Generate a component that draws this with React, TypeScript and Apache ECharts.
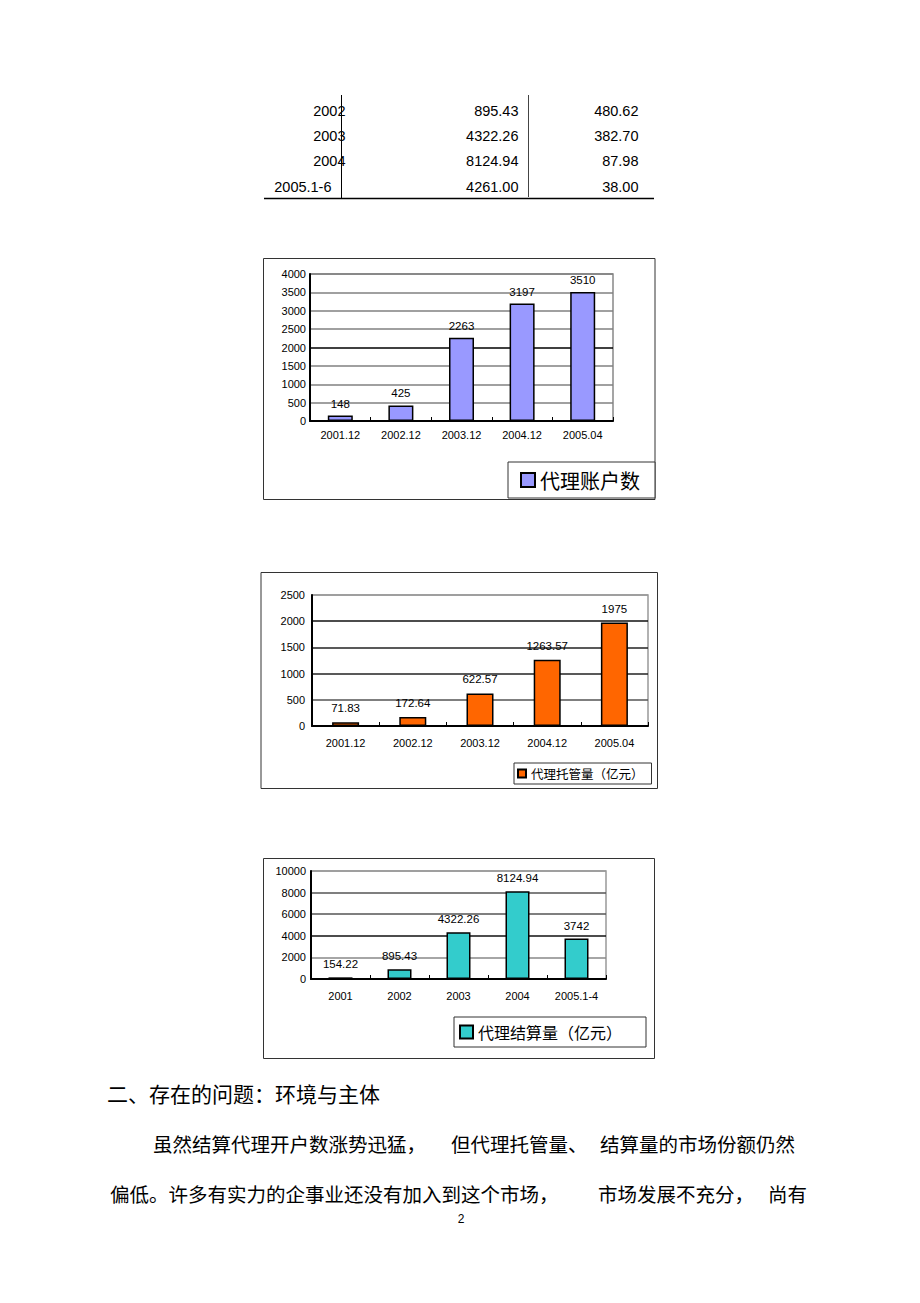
import React, { useEffect, useRef } from "react";
import * as echarts from "echarts";

// ---- data ----
const accountCats = ["2001.12", "2002.12", "2003.12", "2004.12", "2005.04"];
const accountVals = [148, 425, 2263, 3197, 3510];
const accountName = "代理账户数";

const custodyCats = ["2001.12", "2002.12", "2003.12", "2004.12", "2005.04"];
const custodyVals = [71.83, 172.64, 622.57, 1263.57, 1975];
const custodyName = "代理托管量（亿元）";

const settleCats = ["2001", "2002", "2003", "2004", "2005.1-4"];
const settleVals = [154.22, 895.43, 4322.26, 8124.94, 3742];
const settleName = "代理结算量（亿元）";

const tableYears = ["2002", "2003", "2004", "2005.1-6"];
const tableSettle = ["895.43", "4322.26", "8124.94", "4261.00"];
const tableOther = ["480.62", "382.70", "87.98", "38.00"];

const heading = "二、存在的问题：环境与主体";
const para1 = ["虽然结算代理开户数涨势迅猛，", "但代理托管量、", "结算量的市场份额仍然"];
const para2 = ["偏低。许多有实力的企事业还没有加入到这个市场，", "市场发展不充分，", "尚有"];
const pageNo = "2";

const LATIN = "Liberation Sans, Arial, sans-serif";
const CJK = "Noto Sans CJK SC";

function xAxisCfg(idx: number, data: string[], margin: number) {
  return {
    type: "category",
    gridIndex: idx,
    data,
    boundaryGap: true,
    axisLine: { show: true, lineStyle: { color: "#000", width: 2 } },
    axisTick: { show: true, inside: true, length: 4, interval: 0, lineStyle: { color: "#000", width: 1 } },
    axisLabel: { interval: 0, fontSize: 11, color: "#000", fontFamily: LATIN, margin },
    splitLine: { show: false },
  };
}

function yAxisCfg(idx: number, max: number, interval: number, colors: string[], margin: number) {
  return {
    type: "value",
    gridIndex: idx,
    min: 0,
    max,
    interval,
    axisLine: { show: true, lineStyle: { color: "#000", width: 2 } },
    axisTick: { show: false },
    axisLabel: { fontSize: 11, color: "#000", fontFamily: LATIN, margin, formatter: (v: number) => String(v) },
    splitLine: { show: true, lineStyle: { color: colors, width: 1.5 } },
  };
}

function barSeries(name: string, idx: number, data: number[], color: string, barWidth: number, dist: number) {
  return {
    type: "bar",
    name,
    xAxisIndex: idx,
    yAxisIndex: idx,
    data,
    barWidth,
    itemStyle: { color, borderColor: "#000", borderWidth: 1.5 },
    label: { show: true, position: "top", distance: dist, fontSize: 11.5, color: "#000", fontFamily: LATIN },
  };
}

export default function App() {
  const ref = useRef<HTMLDivElement>(null);

  useEffect(() => {
    if (!ref.current) return;
    const chart = echarts.init(ref.current, null, { renderer: "svg" });

    const graphics: any[] = [];
    // table
    graphics.push({ type: "line", shape: { x1: 341.5, y1: 95, x2: 341.5, y2: 199 }, style: { stroke: "#000", lineWidth: 1 } });
    graphics.push({ type: "line", shape: { x1: 528.5, y1: 95, x2: 528.5, y2: 197 }, style: { stroke: "#444", lineWidth: 1 } });
    graphics.push({ type: "line", shape: { x1: 264, y1: 198.5, x2: 654, y2: 198.5 }, style: { stroke: "#000", lineWidth: 1.5 } });
    tableYears.forEach((y, i) => {
      const cy = 110.7 + i * 25.3;
      graphics.push({ type: "text", x: i === tableYears.length - 1 ? 331.5 : 345.5, y: cy, style: { text: y, fontSize: 14.5, fontFamily: LATIN, fill: "#000", align: "right", verticalAlign: "middle" } });
      graphics.push({ type: "text", x: 518.5, y: cy, style: { text: tableSettle[i], fontSize: 14.5, fontFamily: LATIN, fill: "#000", align: "right", verticalAlign: "middle" } });
      graphics.push({ type: "text", x: 638.5, y: cy, style: { text: tableOther[i], fontSize: 14.5, fontFamily: LATIN, fill: "#000", align: "right", verticalAlign: "middle" } });
    });
    // chart frames
    const frame = (x: number, y: number, w: number, h: number) => ({
      type: "rect",
      shape: { x, y, width: w, height: h },
      style: { fill: "none", stroke: "#333", lineWidth: 1 },
      silent: true,
    });
    graphics.push(frame(263.5, 258.5, 391.5, 241));
    graphics.push(frame(261, 572.5, 396.5, 216));
    graphics.push(frame(263.5, 858.5, 391, 200));
    // body text
    graphics.push({ type: "text", x: 107, y: 1093, style: { text: heading, fontSize: 21, fontFamily: CJK, fill: "#000", verticalAlign: "middle" } });
    const p1x = [153, 451, 600];
    para1.forEach((t, i) => graphics.push({ type: "text", x: p1x[i], y: 1143, style: { text: t, fontSize: 19.5, fontFamily: CJK, fill: "#000", verticalAlign: "middle" } }));
    const p2x = [110, 598, 768];
    para2.forEach((t, i) => graphics.push({ type: "text", x: p2x[i], y: 1193, style: { text: t, fontSize: 19.5, fontFamily: CJK, fill: "#000", verticalAlign: "middle" } }));
    graphics.push({ type: "text", x: 461, y: 1219, style: { text: pageNo, fontSize: 12, fontFamily: LATIN, fill: "#000", align: "center", verticalAlign: "middle" } });

    const option: any = {
      animation: false,
      backgroundColor: "#fff",
      grid: [
        { left: 310, top: 274, width: 303, height: 147, show: true, borderColor: "#888", borderWidth: 1.5, backgroundColor: "transparent" },
        { left: 312, top: 595, width: 336, height: 131, show: true, borderColor: "#999", borderWidth: 1.5, backgroundColor: "transparent" },
        { left: 311, top: 871, width: 295, height: 108, show: true, borderColor: "#999", borderWidth: 1.5, backgroundColor: "transparent" },
      ],
      xAxis: [xAxisCfg(0, accountCats, 8), xAxisCfg(1, custodyCats, 11), xAxisCfg(2, settleCats, 11)],
      yAxis: [
        yAxisCfg(0, 4000, 500, ["#000", "#808080", "#808080", "#808080", "#000", "#808080", "#808080", "#808080", "#808080"], 4),
        yAxisCfg(1, 2500, 500, ["#000", "#555", "#222", "#222", "#111", "#999"], 7),
        yAxisCfg(2, 10000, 2000, ["#000", "#888", "#111", "#555", "#555", "#999"], 5),
      ],
      legend: [
        {
          data: [accountName], left: 508, top: 462, orient: "horizontal", icon: "rect",
          itemWidth: 14, itemHeight: 14,
          textStyle: { fontSize: 20, fontFamily: CJK, color: "#000", lineHeight: 20 },
          borderColor: "#333", borderWidth: 1, padding: [8, 15, 8, 12], backgroundColor: "#fff",
        },
        {
          data: [custodyName], left: 514, top: 763, orient: "horizontal", icon: "rect",
          itemWidth: 8, itemHeight: 8,
          textStyle: { fontSize: 12.5, fontFamily: CJK, color: "#000", lineHeight: 13 },
          borderColor: "#333", borderWidth: 1, padding: [4, 8, 4, 3], backgroundColor: "#fff",
        },
        {
          data: [settleName], left: 454, top: 1017, orient: "horizontal", icon: "rect",
          itemWidth: 13, itemHeight: 13,
          textStyle: { fontSize: 16, fontFamily: CJK, color: "#000", lineHeight: 16 },
          borderColor: "#333", borderWidth: 1, padding: [7, 24, 7, 5], backgroundColor: "#fff",
        },
      ],
      series: [
        barSeries(accountName, 0, accountVals, "#9999FF", 25, 6),
        barSeries(custodyName, 1, custodyVals, "#FF6600", 27, 8),
        barSeries(settleName, 2, settleVals, "#33CCCC", 24, 7),
      ],
      graphic: graphics,
    };
    chart.setOption(option);
    return () => chart.dispose();
  }, []);

  return (
    <div
      ref={ref}
      style={{ position: "absolute", left: 0, top: 0, width: 920, height: 1303, background: "#fff" }}
    />
  );
}
